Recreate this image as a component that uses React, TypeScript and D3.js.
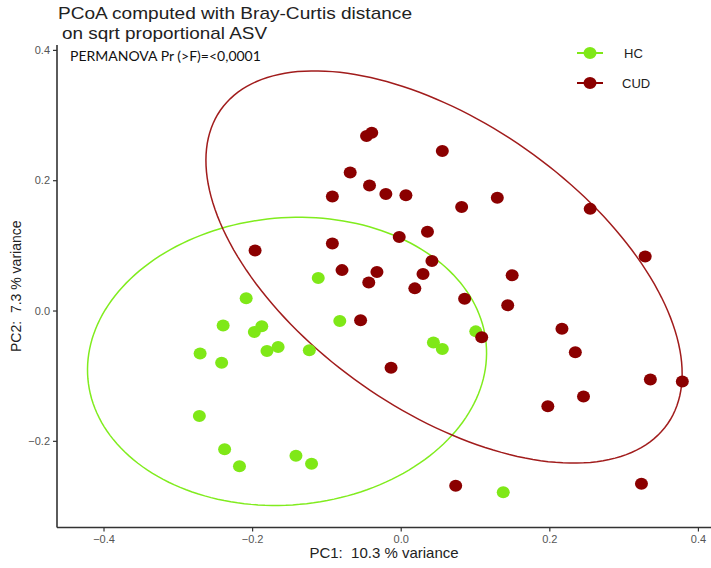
import React, { useRef, useEffect } from 'react';
import * as d3 from 'd3';

// PC1 / PC2 coordinates
const hcX = [-0.208, -0.111, -0.239, -0.187, -0.197, -0.270, -0.241, -0.180, -0.165, -0.123, -0.082, -0.271, -0.237, -0.217, -0.141, -0.120, 0.101, 0.044, 0.056, 0.138];
const hcY = [0.019, 0.050, -0.023, -0.024, -0.033, -0.066, -0.080, -0.062, -0.056, -0.061, -0.016, -0.162, -0.213, -0.239, -0.223, -0.235, -0.032, -0.049, -0.059, -0.279];

const cudX = [-0.039, -0.046, 0.056, -0.068, -0.042, -0.020, 0.007, -0.092, 0.082, 0.130, 0.255, -0.002, 0.036, -0.196, -0.092, 0.329, -0.079, -0.032, 0.042, -0.043, 0.030, 0.150, 0.019, 0.086, 0.144, -0.054, 0.109, -0.013, 0.217, 0.235, 0.336, 0.379, 0.246, 0.198, 0.074, 0.324];
const cudY = [0.273, 0.268, 0.245, 0.212, 0.192, 0.179, 0.177, 0.175, 0.159, 0.173, 0.156, 0.113, 0.121, 0.092, 0.103, 0.083, 0.062, 0.059, 0.076, 0.043, 0.056, 0.054, 0.034, 0.018, 0.008, -0.015, -0.041, -0.088, -0.028, -0.064, -0.106, -0.109, -0.132, -0.147, -0.269, -0.266];

// 95% ellipses: centre and two conjugate semi-axis vectors (data units)
const hcEllipse = { cx: -0.153, cy: -0.078, ux: 0.268, uy: 0.027, vx: 0.017, vy: -0.2195 };
const cudEllipse = { cx: 0.0583, cy: 0.0668, ux: 0.301, uy: -0.2405, vx: -0.110, vy: -0.181 };

const xTicks = [-0.4, -0.2, 0.0, 0.2, 0.4];
const yTicks = [-0.2, 0.0, 0.2, 0.4];

const groups = ['HC', 'CUD'];
const pointColors = ['#7FE817', '#8B0000'];
const lineColors = ['#80EC1E', '#A11C1C'];

const W = 711;
const H = 568;

const App: React.FC = () => {
    const svgRef = useRef<SVGSVGElement>(null);

    useEffect(() => {
        if (!svgRef.current) return;
        const svg = d3.select(svgRef.current);
        svg.selectAll("*").remove();

        const left = 57, right = 711, top = 45, bottom = 527.5;

        const x = d3.scaleLinear().domain([-0.4626, 0.4176]).range([left, right]);
        const y = d3.scaleLinear().domain([-0.333, 0.4075]).range([bottom, top]);

        // title (two lines, slightly stretched like the source image)
        const title = svg.append("g")
            .attr("font-family", "Liberation Sans, Arial, sans-serif")
            .attr("font-size", "17px")
            .attr("fill", "#222");
        title.append("text").attr("x", 58).attr("y", 19)
            .attr("textLength", 354).attr("lengthAdjust", "spacingAndGlyphs")
            .text("PCoA computed with Bray-Curtis distance");
        title.append("text").attr("x", 62).attr("y", 38.5)
            .attr("textLength", 205).attr("lengthAdjust", "spacingAndGlyphs")
            .text("on sqrt proportional ASV");

        // axes
        const xAxis = d3.axisBottom(x).tickValues(xTicks).tickSize(4).tickPadding(4).tickFormat(d3.format(".1f"));
        const yAxis = d3.axisLeft(y).tickValues(yTicks).tickSize(4).tickPadding(3).tickFormat(d3.format(".1f"));

        const gx = svg.append("g").attr("transform", `translate(0,${bottom})`).call(xAxis);
        const gy = svg.append("g").attr("transform", `translate(${left},0)`).call(yAxis);

        [gx, gy].forEach(g => {
            g.select(".domain").attr("stroke", "#333").attr("stroke-width", 1.6);
            g.selectAll(".tick line").attr("stroke", "#333").attr("stroke-width", 1.2);
            g.selectAll(".tick text")
                .attr("fill", "#555")
                .attr("font-family", "Liberation Sans, Arial, sans-serif")
                .attr("font-size", "11px");
        });
        gx.select(".domain").attr("d", `M${left},0H${right}`);
        gy.select(".domain").attr("d", `M0,${top}V${bottom}`);

        svg.append("text")
            .attr("x", (left + right) / 2)
            .attr("y", 558)
            .attr("text-anchor", "middle")
            .attr("font-family", "Liberation Sans, Arial, sans-serif")
            .attr("font-size", "15px")
            .attr("fill", "#222")
            .attr("xml:space", "preserve")
            .text("PC1:  10.3 % variance");

        svg.append("text")
            .attr("transform", `translate(21,${(top + bottom) / 2}) rotate(-90)`)
            .attr("text-anchor", "middle")
            .attr("font-family", "Liberation Sans, Arial, sans-serif")
            .attr("font-size", "14px")
            .attr("fill", "#222")
            .attr("xml:space", "preserve")
            .text("PC2:  7.3 % variance");

        // ellipses
        const angles = d3.range(0, 361, 2).map(a => a * Math.PI / 180);
        [hcEllipse, cudEllipse].forEach((e, i) => {
            const pts = angles.map(t => [
                x(e.cx + e.ux * Math.cos(t) + e.vx * Math.sin(t)),
                y(e.cy + e.uy * Math.cos(t) + e.vy * Math.sin(t))
            ] as [number, number]);
            svg.append("path")
                .attr("d", d3.line().curve(d3.curveLinearClosed)(pts) as string)
                .attr("fill", "none")
                .attr("stroke", lineColors[i])
                .attr("stroke-width", 1.5);
        });

        // points
        const series = [[hcX, hcY], [cudX, cudY]];
        series.forEach(([xs, ys], i) => {
            svg.append("g").selectAll("ellipse")
                .data(xs)
                .join("ellipse")
                .attr("cx", d => x(d))
                .attr("cy", (_, j) => y(ys[j]))
                .attr("rx", 6.5)
                .attr("ry", 6)
                .attr("fill", pointColors[i]);
        });

        // PERMANOVA
        svg.append("text")
            .attr("x", 70)
            .attr("y", 61)
            .attr("font-family", "Lato, Open Sans, sans-serif")
            .attr("font-size", "14px")
            .attr("fill", "#111")
            .text("PERMANOVA Pr (>F)=<0,0001");

        // legend
        groups.forEach((grp, i) => {
            const ly = 53 + i * 30;
            const lg = svg.append("g");
            lg.append("line")
                .attr("x1", 577).attr("x2", 603)
                .attr("y1", ly).attr("y2", ly)
                .attr("stroke", pointColors[i])
                .attr("stroke-width", 2);
            lg.append("ellipse")
                .attr("cx", 590).attr("cy", ly)
                .attr("rx", 6.5).attr("ry", 6)
                .attr("fill", pointColors[i]);
            lg.append("text")
                .attr("x", i === 0 ? 624 : 622)
                .attr("y", ly + 5)
                .attr("font-family", "Liberation Sans, Arial, sans-serif")
                .attr("font-size", "13px")
                .attr("fill", "#222")
                .text(grp);
        });
    }, []);

    return (
        <svg
            ref={svgRef}
            width={W}
            height={H}
            style={{ position: 'absolute', left: 0, top: 0, background: '#fff' }}
        />
    );
};

export default App;
